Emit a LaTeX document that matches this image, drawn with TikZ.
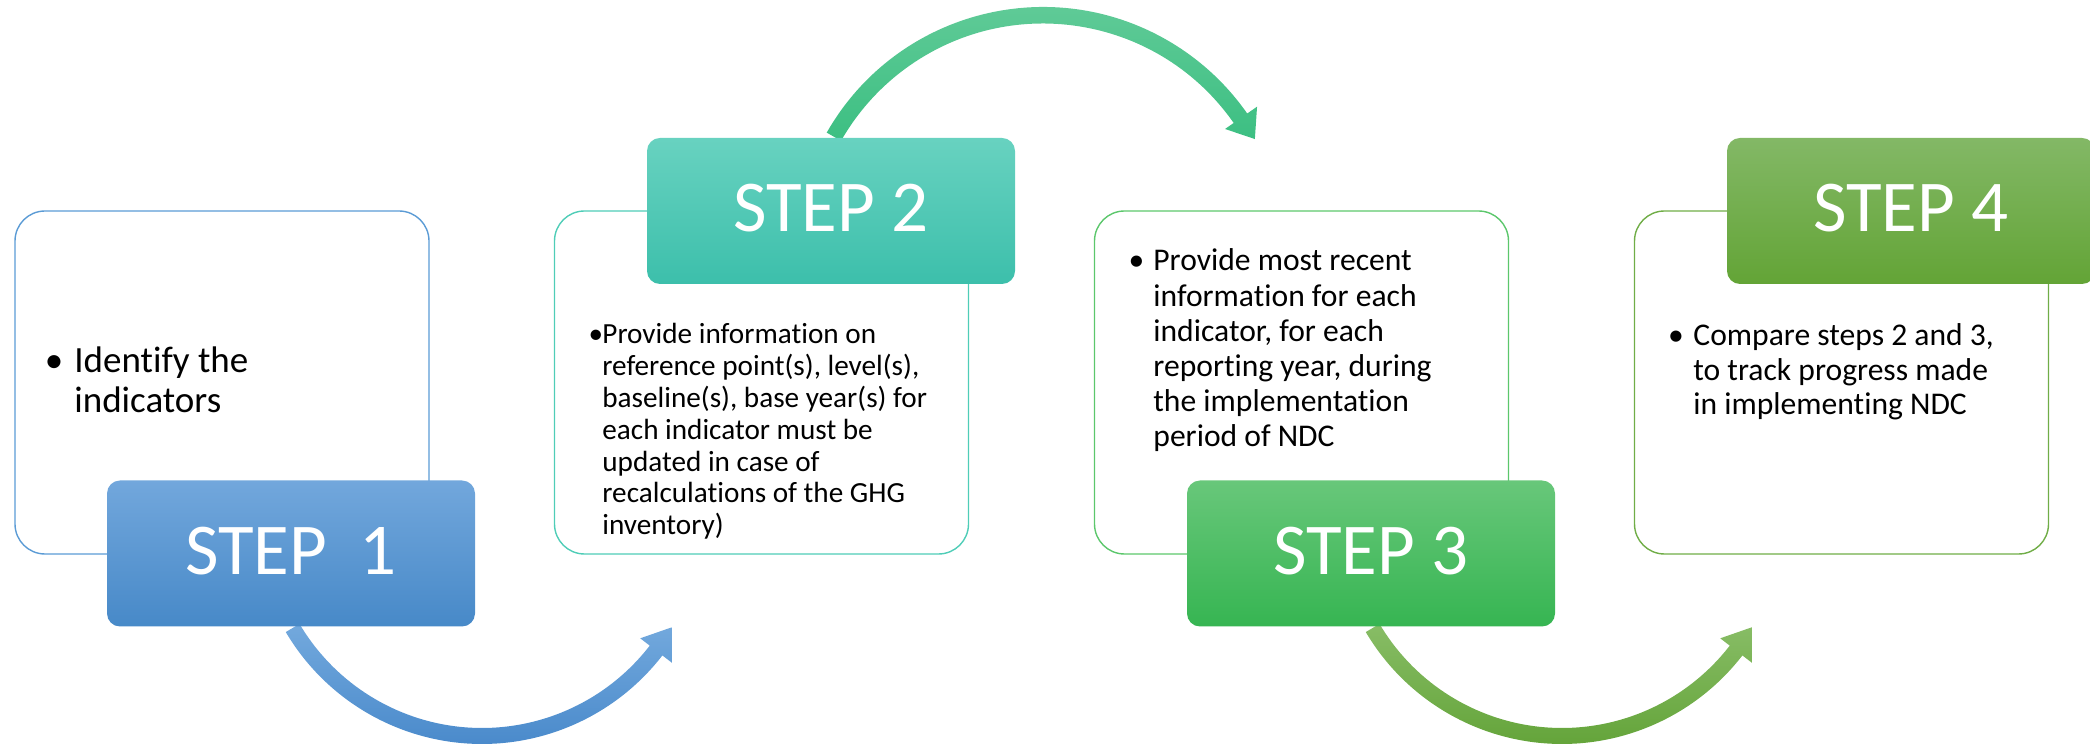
\documentclass[tikz,border=0pt]{standalone}
\usepackage{fontspec}
\setmainfont{Carlito}[Ligatures={NoCommon,NoContextual}]
\usetikzlibrary{calc}
\definecolor{oA}{RGB}{91,155,213}
\definecolor{oB}{RGB}{79,205,183}
\definecolor{oC}{RGB}{92,199,108}
\definecolor{oD}{RGB}{112,173,71}
\definecolor{sAt}{RGB}{114,167,220}
\definecolor{sAb}{RGB}{71,137,200}
\definecolor{sBt}{RGB}{104,210,192}
\definecolor{sBb}{RGB}{60,191,171}
\definecolor{sCt}{RGB}{104,199,122}
\definecolor{sCb}{RGB}{54,181,82}
\definecolor{sDt}{RGB}{131,184,102}
\definecolor{sDb}{RGB}{99,164,54}
\definecolor{aAt}{RGB}{115,169,221}
\definecolor{aAb}{RGB}{74,138,203}
\definecolor{aBt}{RGB}{104,205,156}
\definecolor{aBb}{RGB}{60,191,130}
\definecolor{aCt}{RGB}{136,189,102}
\definecolor{aCb}{RGB}{100,164,58}
\begin{document}
\begin{tikzpicture}[x=0.5pt,y=0.5pt,
  outbox/.style={draw=#1, line width=0.7pt, rounded corners=15pt, minimum width=207pt, minimum height=171.5pt, inner sep=0pt},
  stepbox/.style={rounded corners=6.5pt, minimum width=184pt, minimum height=73pt, inner sep=0pt, text=white, font=\fontsize{36.5}{40}\selectfont, text depth=3pt},
  txt/.style={anchor=base west, inner sep=0pt, text=black},
  bul/.style={anchor=base, inner sep=0pt, text=black}
]
\useasboundingbox (0,0) rectangle (2090,744);
% arc centres
\coordinate (c1) at (482,228);
\coordinate (c2) at (1043,488);
\coordinate (c3) at (1562,228);
% curved arrows
\path[top color=aAt, bottom color=aAb]
  ($(c1)+(210.6:228)$) arc[start angle=210.6, end angle=322.3, radius=228]
  -- ($(c1)+(322.3:240)$) -- ($(c1)+(329.6:220)$) -- ($(c1)+(322.3:200)$)
  -- ($(c1)+(322.3:212)$) arc[start angle=322.3, end angle=210.6, radius=212] -- cycle;
\path[top color=aBt, bottom color=aBb]
  ($(c2)+(150.3:249)$) arc[start angle=150.3, end angle=34.9, radius=249]
  -- ($(c2)+(34.9:261)$) -- ($(c2)+(28.9:242)$) -- ($(c2)+(34.9:222)$)
  -- ($(c2)+(34.9:232.5)$) arc[start angle=34.9, end angle=150.3, radius=232.5] -- cycle;
\path[top color=aCt, bottom color=aCb]
  ($(c3)+(210.6:228)$) arc[start angle=210.6, end angle=322.3, radius=228]
  -- ($(c3)+(322.3:240)$) -- ($(c3)+(329.6:220)$) -- ($(c3)+(322.3:200)$)
  -- ($(c3)+(322.3:212)$) arc[start angle=322.3, end angle=210.6, radius=212] -- cycle;
% outline boxes
\node[outbox=oA] (o1) at (222,361.5) {};
\node[outbox=oB] (o2) at (761.5,361.5) {};
\node[outbox=oC] (o3) at (1301.5,361.5) {};
\node[outbox=oD] (o4) at (1841.5,361.5) {};
% step boxes
\node[stepbox, top color=sAt, bottom color=sAb] (s1) at (291,190.5) {STEP\ \ 1};
\node[stepbox, top color=sBt, bottom color=sBb] (s2) at (831,533) {STEP 2};
\node[stepbox, top color=sCt, bottom color=sCb] (s3) at (1371,190.5) {STEP 3};
\node[stepbox, top color=sDt, bottom color=sDb] (s4) at (1911,533) {STEP 4};
% texts
\node[bul, font=\fontsize{18.5}{20}\selectfont] (b1) at (54,371) {\textbullet};
\node[txt, font=\fontsize{18.5}{20}\selectfont] (t1) at (74,371)
  {\parbox[t]{200pt}{Identify the\\indicators}};
\node[bul, font=\fontsize{14.6}{15.9}\selectfont] (b2) at (596,400) {\textbullet};
\node[txt, font=\fontsize{14.6}{15.9}\selectfont] (t2) at (602,400)
  {\parbox[t]{200pt}{Provide information on\\reference point(s), level(s),\\baseline(s), base year(s) for\\each indicator must be\\updated in case of\\recalculations of the GHG\\inventory)}};
\node[bul, font=\fontsize{15.8}{17.6}\selectfont] (b3) at (1136.5,473) {\textbullet};
\node[txt, font=\fontsize{15.8}{17.6}\selectfont] (t3) at (1153,473)
  {\parbox[t]{200pt}{Provide most recent\\information for each\\indicator, for each\\reporting year, during\\the implementation\\period of NDC}};
\node[bul, font=\fontsize{15.8}{17.25}\selectfont] (b4) at (1676,398) {\textbullet};
\node[txt, font=\fontsize{15.8}{17.25}\selectfont] (t4) at (1693,398)
  {\parbox[t]{200pt}{Compare steps 2 and 3,\\to track progress made\\in implementing NDC}};
\end{tikzpicture}
\end{document}
